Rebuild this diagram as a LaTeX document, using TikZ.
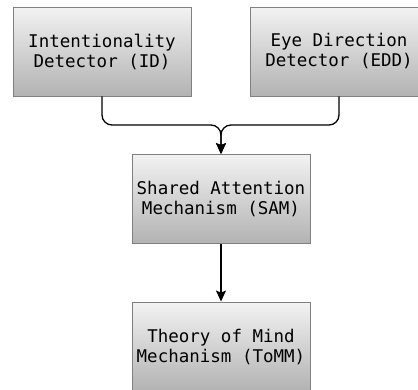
\documentclass[tikz,border=0pt]{standalone}
\usepackage{fontspec}
\setmonofont{DejaVu Sans Mono}
\usetikzlibrary{arrows.meta}
\tikzset{
  box/.style={draw=black!50, line width=0.9pt, top color=black!5, bottom color=black!30,
    minimum width=178pt, minimum height=89pt, inner sep=0pt, align=center,
    font=\ttfamily\fontsize{17.5}{20}\selectfont},
  conn/.style={line width=1.3pt, rounded corners=10pt, -{Stealth[length=11pt,width=10pt,inset=2pt]}}
}
\begin{document}
\begin{tikzpicture}[x=1pt,y=1pt]
\useasboundingbox (0,0) rectangle (418,-389);
\clip (0,0) rectangle (418,-389);
\node[box] (id) at (102,-51.5) {Intentionality\\Detector (ID)};
\node[box] (edd) at (339,-51.5) {Eye Direction\\Detector (EDD)};
\node[box] (sam) at (221,-199) {Shared Attention\\Mechanism (SAM)};
\node[box] (tomm) at (221,-346.5) {Theory of Mind\\Mechanism (ToMM)};
\coordinate (j) at (221,-125);
\draw[conn] (id.south) |- (j) -- (sam.north);
\draw[conn] (edd.south) |- (j) -- (sam.north);
\draw[conn] (sam.south) -- (tomm.north);
\end{tikzpicture}
\end{document}
